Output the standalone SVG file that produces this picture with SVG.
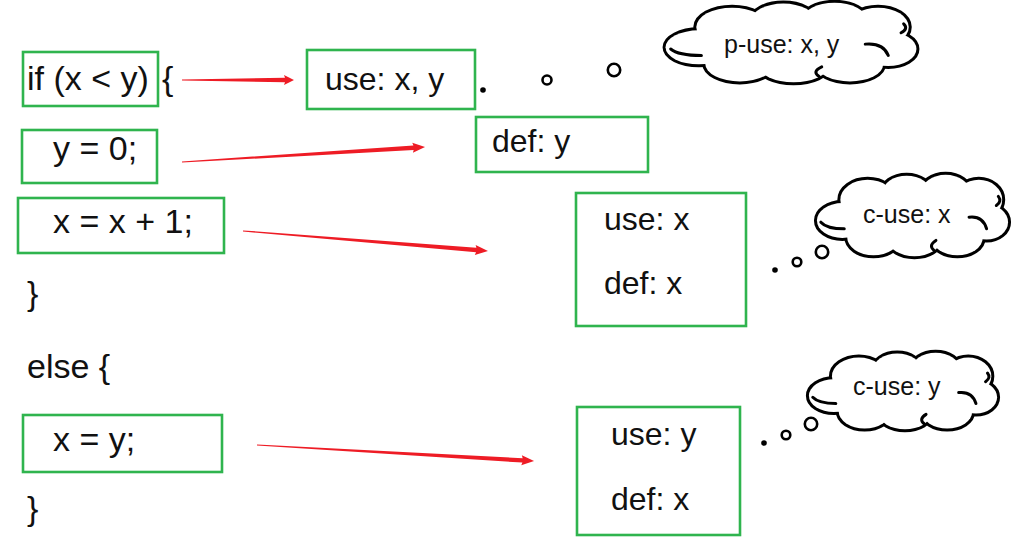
<svg xmlns="http://www.w3.org/2000/svg" width="1024" height="559" viewBox="0 0 1024 559">
<style>
.code{font-family:"Liberation Sans",Arial,sans-serif;font-size:34px;fill:#111}
.lbl{font-family:"Liberation Sans",Arial,sans-serif;font-size:32px;fill:#111}
.cl{font-family:"Liberation Sans",Arial,sans-serif;font-size:25px;fill:#111}
.box{fill:none;stroke:#2fb44e;stroke-width:2.6}
.arr{fill:#ee1c25}
.cloudO{fill:#fff;stroke:#000;stroke-width:6}
.cloudI{fill:#fff;stroke:none}
.inner{fill:none;stroke:#000;stroke-width:3;stroke-linecap:round}
.bub{fill:#fff;stroke:#000;stroke-width:2.6}
</style>
<defs>
<g id="cloudBlobs">
  <ellipse vector-effect="non-scaling-stroke" cx="14" cy="56" rx="13" ry="21"/>
  <ellipse vector-effect="non-scaling-stroke" cx="27" cy="31" rx="14" ry="24"/>
  <ellipse vector-effect="non-scaling-stroke" cx="47" cy="23" rx="12.5" ry="21"/>
  <ellipse vector-effect="non-scaling-stroke" cx="67" cy="22" rx="12.5" ry="21"/>
  <ellipse vector-effect="non-scaling-stroke" cx="84" cy="31" rx="12" ry="24"/>
  <ellipse vector-effect="non-scaling-stroke" cx="88" cy="58" rx="11" ry="21"/>
  <ellipse vector-effect="non-scaling-stroke" cx="73" cy="77" rx="13" ry="21"/>
  <ellipse vector-effect="non-scaling-stroke" cx="51" cy="79" rx="13.5" ry="20"/>
  <ellipse vector-effect="non-scaling-stroke" cx="30" cy="76" rx="13.5" ry="22"/>
  <ellipse vector-effect="non-scaling-stroke" cx="50" cy="50" rx="36" ry="30"/>
</g>
<g id="cloudInner">
  <path vector-effect="non-scaling-stroke" d="M 3,58 Q 6,66 15,66"/>
  <path vector-effect="non-scaling-stroke" d="M 79,52 Q 86,50 88,66"/>
  <path vector-effect="non-scaling-stroke" d="M 94,27 Q 96,33 93,38"/>
  <path vector-effect="non-scaling-stroke" d="M 61,92 Q 58,86 62,80"/>
</g>
</defs>

<g id="connectors">
  <path class="arr" transform="translate(182,80)" d="M0,-0.6 L103,-2.2 L102,-5 L112,0 L102,5 L103,2.2 L0,0.6 Z"/>
  <path class="arr" transform="translate(182,162) rotate(-3.53)" d="M0,-0.6 L232,-2.2 L231,-5 L243.5,0 L231,5 L232,2.2 L0,0.6 Z"/>
  <path class="arr" transform="translate(243,231) rotate(4.67)" d="M0,-0.6 L234,-2.2 L233,-5 L245.8,0 L233,5 L234,2.2 L0,0.6 Z"/>
  <path class="arr" transform="translate(257,445) rotate(3.31)" d="M0,-0.6 L266,-2.2 L265,-5 L277.5,0 L265,5 L266,2.2 L0,0.6 Z"/>
</g>

<g id="code-if">
  <rect class="box" x="23" y="52" width="135" height="54"/>
  <text class="code" x="27" y="90">if (x &lt; y)</text>
  <text class="code" x="162" y="90">{</text>
</g>
<g id="code-y0">
  <rect class="box" x="22" y="130" width="135" height="53"/>
  <text class="code" x="53" y="160">y = 0;</text>
</g>
<g id="code-xinc">
  <rect class="box" x="18" y="198" width="206" height="55"/>
  <text class="code" x="53" y="233">x = x + 1;</text>
</g>
<g id="code-rest">
  <text class="code" x="27" y="305">}</text>
  <text class="code" x="27" y="378">else {</text>
  <text class="code" x="27" y="520">}</text>
</g>
<g id="code-xy">
  <rect class="box" x="23" y="415" width="199" height="57"/>
  <text class="code" x="53" y="451">x = y;</text>
</g>

<g id="use-xy">
  <rect class="box" x="307" y="50" width="168" height="59"/>
  <text class="lbl" x="325" y="90">use: x, y</text>
</g>
<g id="def-y">
  <rect class="box" x="476" y="117" width="172" height="55"/>
  <text class="lbl" x="492" y="152">def: y</text>
</g>
<g id="usedef-x">
  <rect class="box" x="576" y="193" width="170" height="133"/>
  <text class="lbl" x="604" y="230">use: x</text>
  <text class="lbl" x="604" y="294">def: x</text>
</g>
<g id="usedef-y">
  <rect class="box" x="577" y="407" width="163" height="128"/>
  <text class="lbl" x="611" y="445">use: y</text>
  <text class="lbl" x="611" y="510">def: x</text>
</g>

<g id="cloud-puse">
  <circle cx="483" cy="90" r="2.8" fill="#000"/>
  <circle class="bub" cx="547" cy="80" r="4.5"/>
  <circle class="bub" cx="614" cy="70" r="6.2"/>
  <g transform="translate(663,2) scale(2.56,0.81)">
    <use href="#cloudBlobs" class="cloudO"/>
    <use href="#cloudBlobs" class="cloudI"/>
    <use href="#cloudInner" class="inner"/>
  </g>
  <text class="cl" x="724" y="53">p-use: x, y</text>
</g>
<g id="cloud-cusex">
  <circle cx="775" cy="270" r="2.8" fill="#000"/>
  <circle class="bub" cx="797" cy="262" r="4.3"/>
  <circle class="bub" cx="822" cy="252" r="6.2"/>
  <g transform="translate(815,174) scale(1.95,0.83)">
    <use href="#cloudBlobs" class="cloudO"/>
    <use href="#cloudBlobs" class="cloudI"/>
    <use href="#cloudInner" class="inner"/>
  </g>
  <text class="cl" x="863" y="223">c-use: x</text>
</g>
<g id="cloud-cusey">
  <circle cx="764" cy="443" r="2.8" fill="#000"/>
  <circle class="bub" cx="786" cy="435" r="4.3"/>
  <circle class="bub" cx="811" cy="424" r="6.2"/>
  <g transform="translate(807,352) scale(1.92,0.78)">
    <use href="#cloudBlobs" class="cloudO"/>
    <use href="#cloudBlobs" class="cloudI"/>
    <use href="#cloudInner" class="inner"/>
  </g>
  <text class="cl" x="853" y="395">c-use: y</text>
</g>
</svg>
